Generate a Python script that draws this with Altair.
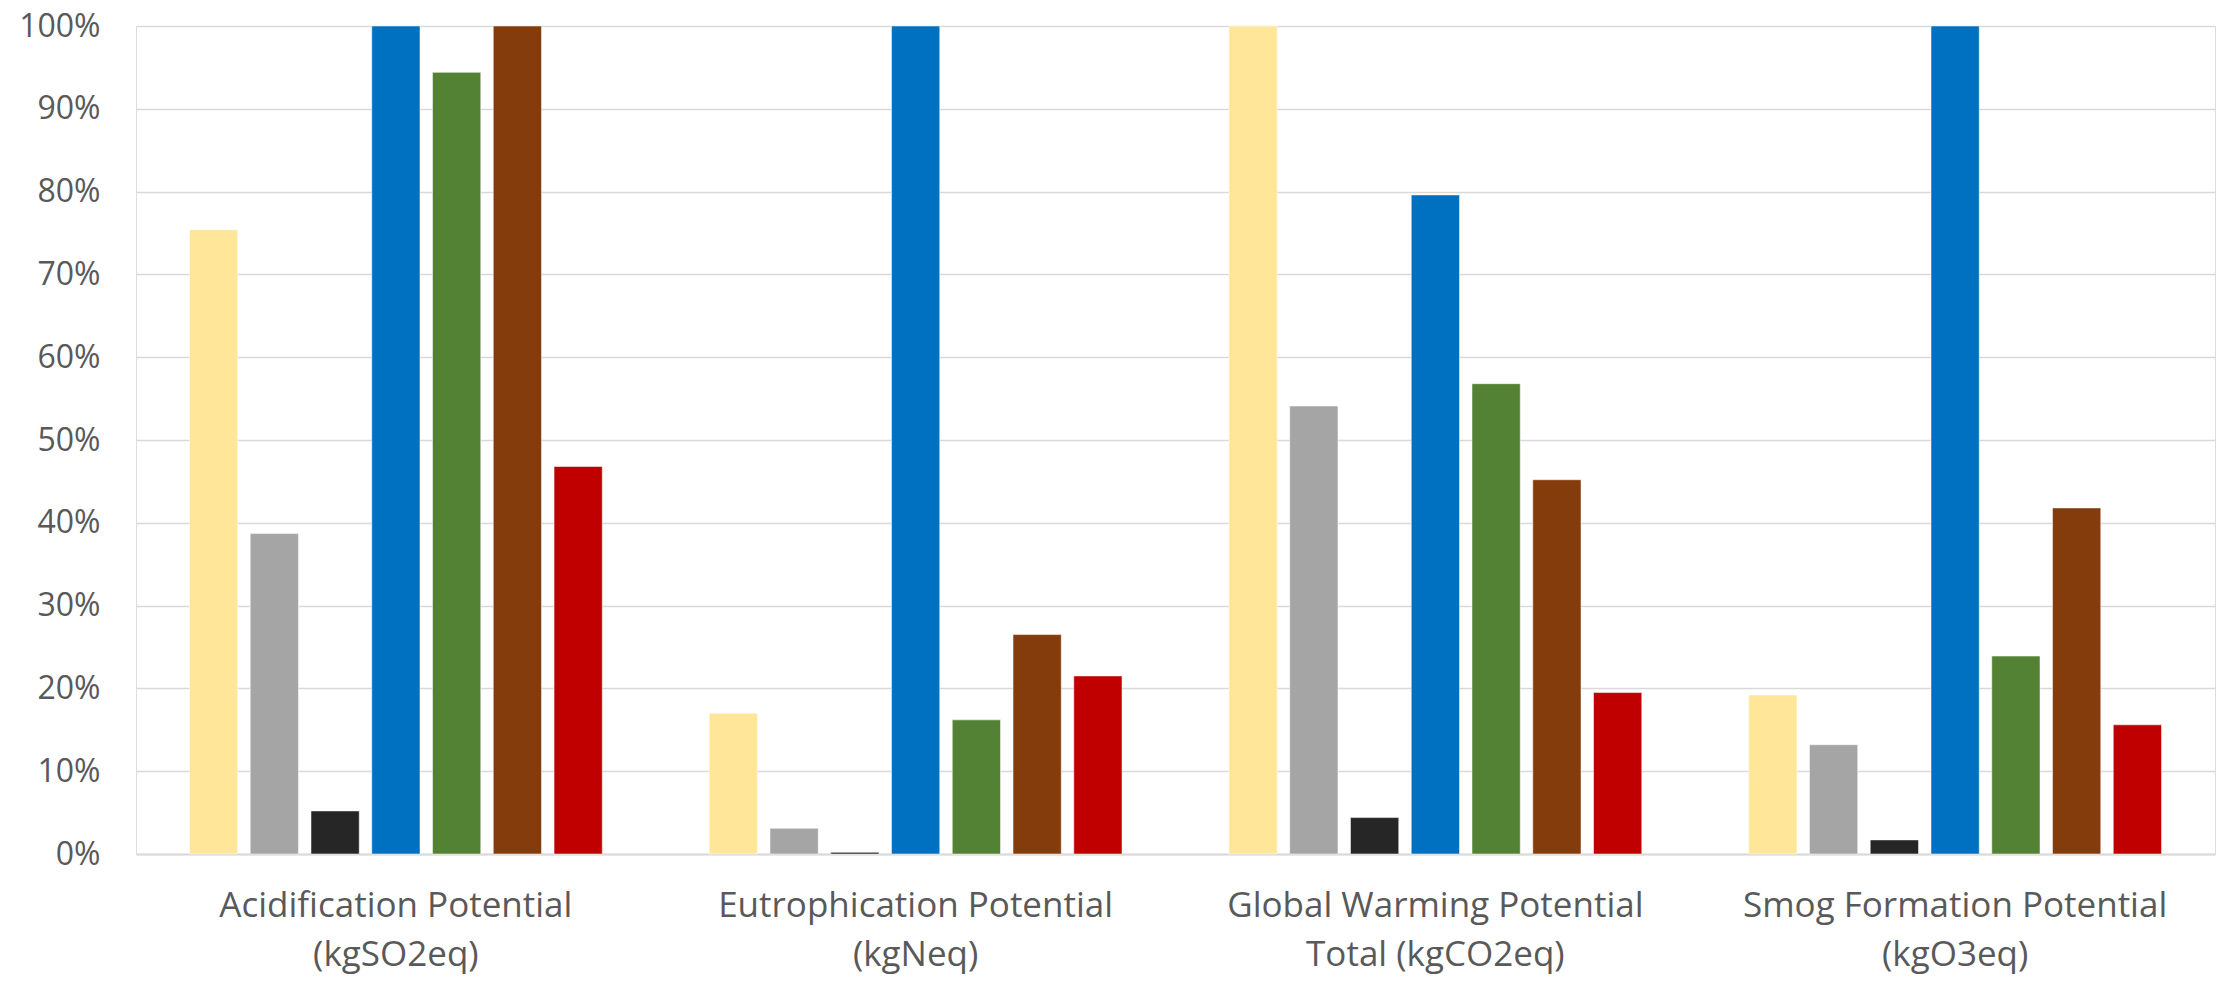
import altair as alt
import pandas as pd

categories = [
    "Acidification Potential\n(kgSO2eq)",
    "Eutrophication Potential\n(kgNeq)",
    "Global Warming Potential\nTotal (kgCO2eq)",
    "Smog Formation Potential\n(kgO3eq)",
]
series_names = ["Series 1", "Series 2", "Series 3", "Series 4", "Series 5", "Series 6", "Series 7"]
series_colors = ["#FFE699", "#A5A5A5", "#262626", "#0070C0", "#548235", "#843C0C", "#C00000"]

s1 = [0.754, 0.170, 1.000, 0.192]
s2 = [0.387, 0.031, 0.541, 0.132]
s3 = [0.052, 0.002, 0.044, 0.017]
s4 = [1.000, 1.000, 0.796, 1.000]
s5 = [0.944, 0.162, 0.568, 0.239]
s6 = [1.000, 0.265, 0.452, 0.418]
s7 = [0.468, 0.215, 0.195, 0.156]

series_values = [s1, s2, s3, s4, s5, s6, s7]

rows = []
for name, vals in zip(series_names, series_values):
    for cat, v in zip(categories, vals):
        rows.append({"category": cat, "series": name, "value": v})
df = pd.DataFrame(rows)

chart = alt.Chart(df).mark_bar(stroke="white", strokeWidth=1, strokeOpacity=0.5).encode(
    x=alt.X("category:N", sort=categories,
            scale=alt.Scale(paddingInner=0, paddingOuter=0),
            axis=alt.Axis(title=None, labelAngle=0, ticks=False, domain=True,
                          domainColor="#D9D9D9", domainWidth=2,
                          labelExpr="split(datum.label, '\\n')",
                          labelFont="Open Sans", labelFontSize=35, labelColor="#595959",
                          labelLimit=0,
                          labelLineHeight=49, labelPadding=34, labelBaseline="top")),
    xOffset=alt.XOffset("series:N", sort=series_names,
                        scale=alt.Scale(paddingInner=0.206, paddingOuter=0.88)),
    y=alt.Y("value:Q", scale=alt.Scale(domain=[0, 1], nice=False),
            axis=alt.Axis(title=None, format=".0%", values=[i / 10 for i in range(11)],
                          domain=False, ticks=False, gridColor="#D9D9D9", gridWidth=1.5,
                          labelFont="Open Sans", labelFontSize=32, labelColor="#595959",
                          labelPadding=36)),
    color=alt.Color("series:N", sort=series_names,
                    scale=alt.Scale(domain=series_names, range=series_colors), legend=None),
).properties(
    width=2079, height=828,
    autosize=alt.AutoSizeParams(type="none"),
    padding={"left": 128, "top": 18, "right": 10, "bottom": 122},
).configure_view(stroke=None).configure(background="white")

chart.save("out.html", embed_options={"renderer": "svg", "actions": False})
